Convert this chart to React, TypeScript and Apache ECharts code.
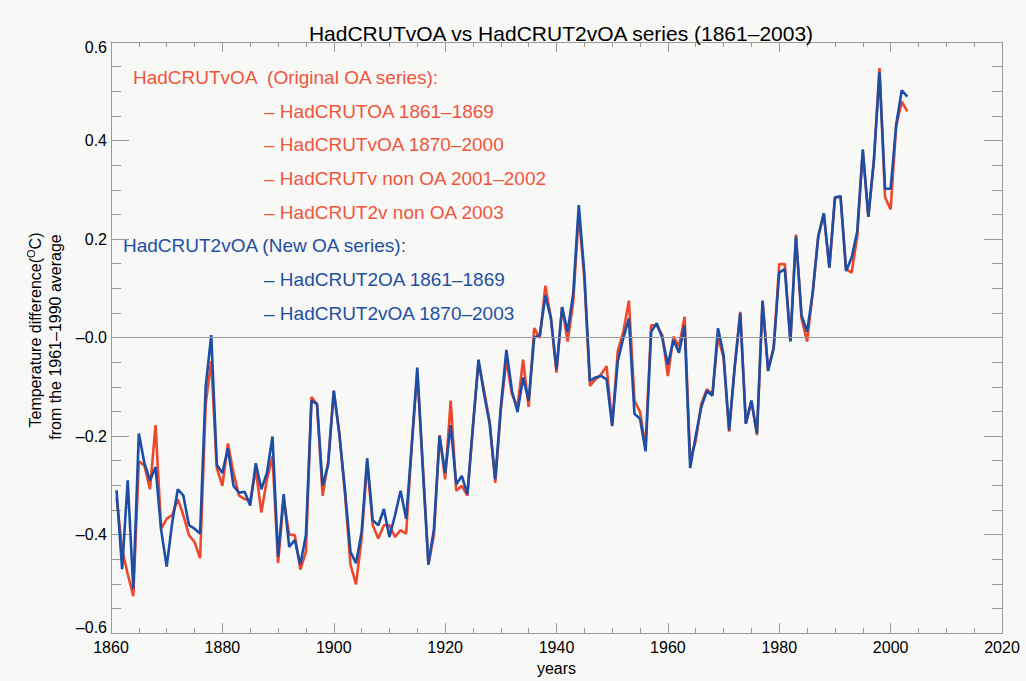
import React, { useEffect, useRef } from "react";
import * as echarts from "echarts";

const FIRST_YEAR = 1861;

// HadCRUTvOA (original OA series), 1861-2003
const hadcrutvOA: number[] = [
  -0.325, -0.43, -0.48, -0.525, -0.251, -0.26, -0.308, -0.178, -0.388,
  -0.368, -0.36, -0.328, -0.361, -0.401, -0.415, -0.448, -0.135, -0.048, -0.265,
  -0.301, -0.215, -0.275, -0.321, -0.328, -0.331, -0.268, -0.355, -0.288, -0.241,
  -0.458, -0.328, -0.4, -0.401, -0.471, -0.435, -0.121, -0.135, -0.321, -0.251,
  -0.108, -0.195, -0.315, -0.461, -0.501, -0.408, -0.255, -0.381, -0.408, -0.381,
  -0.381, -0.405, -0.391, -0.398, -0.22, -0.07, -0.26, -0.461, -0.4, -0.198,
  -0.288, -0.128, -0.311, -0.301, -0.321, -0.18, -0.05, -0.108, -0.171, -0.295,
  -0.148, -0.045, -0.115, -0.141, -0.045, -0.141, 0.019, -0.001, 0.105, 0.039,
  -0.071, 0.062, -0.008, 0.072, 0.252, 0.12, -0.098, -0.085, -0.075, -0.058,
  -0.178, -0.028, 0.012, 0.075, -0.128, -0.151, -0.221, 0.025, 0.025, 0.005,
  -0.078, 0.002, -0.018, 0.042, -0.248, -0.21, -0.135, -0.105, -0.115, 0.002,
  -0.041, -0.191, -0.06, 0.052, -0.175, -0.128, -0.198, 0.072, -0.065, -0.021,
  0.149, 0.149, -0.008, 0.209, 0.039, -0.008, 0.09, 0.205, 0.252, 0.142,
  0.282, 0.287, 0.139, 0.132, 0.205, 0.379, 0.245, 0.36, 0.547, 0.285,
  0.26, 0.429, 0.479, 0.459,
];

// HadCRUT2vOA (new OA series), 1861-2003
const hadcrut2vOA: number[] = [
  -0.31, -0.47, -0.29, -0.51, -0.195, -0.255, -0.29, -0.263, -0.39,
  -0.465, -0.375, -0.308, -0.321, -0.381, -0.388, -0.398, -0.101, 0.005, -0.258,
  -0.275, -0.225, -0.301, -0.315, -0.313, -0.341, -0.255, -0.308, -0.275, -0.201,
  -0.445, -0.318, -0.425, -0.411, -0.461, -0.401, -0.128, -0.135, -0.301, -0.258,
  -0.108, -0.195, -0.308, -0.435, -0.458, -0.395, -0.245, -0.371, -0.381, -0.348,
  -0.405, -0.361, -0.311, -0.368, -0.22, -0.061, -0.268, -0.461, -0.388, -0.2,
  -0.275, -0.178, -0.298, -0.281, -0.318, -0.18, -0.045, -0.115, -0.175, -0.288,
  -0.141, -0.025, -0.108, -0.151, -0.081, -0.128, 0.0, 0.005, 0.085, 0.039,
  -0.065, 0.062, 0.012, 0.089, 0.269, 0.13, -0.088, -0.081, -0.078, -0.085,
  -0.18, -0.048, -0.001, 0.039, -0.155, -0.165, -0.231, 0.012, 0.029, -0.001,
  -0.055, -0.005, -0.031, 0.025, -0.265, -0.2, -0.141, -0.108, -0.118, 0.019,
  -0.035, -0.188, -0.06, 0.049, -0.175, -0.128, -0.195, 0.075, -0.068, -0.021,
  0.132, 0.139, -0.008, 0.205, 0.045, 0.012, 0.09, 0.205, 0.252, 0.142,
  0.285, 0.287, 0.135, 0.162, 0.215, 0.382, 0.245, 0.36, 0.539, 0.302,
  0.302, 0.432, 0.502, 0.489,
];

const RED = "#f0472c";
const BLUE = "#1c4ea6";
const RED_TEXT = "#f2553c";
const BLUE_TEXT = "#234fa3";
const AXIS_GREY = "#9a9a9a";

const redLegend = [
  "HadCRUTvOA  (Original OA series):",
  "\u2013 HadCRUTOA 1861\u20131869",
  "\u2013 HadCRUTvOA 1870\u20132000",
  "\u2013 HadCRUTv non OA 2001\u20132002",
  "\u2013 HadCRUT2v non OA 2003",
];
const blueLegend = [
  "HadCRUT2vOA (New OA series):",
  "\u2013 HadCRUT2OA 1861\u20131869",
  "\u2013 HadCRUT2vOA 1870\u20132003",
];

const FONT = "'Liberation Sans', 'Helvetica', Arial, sans-serif";

function toPairs(vals: number[]): [number, number][] {
  return vals.map((v, i) => [FIRST_YEAR + i, v]);
}

function fmtY(v: number): string {
  if (Math.abs(v) < 1e-9) return "\u20130.0";
  const s = Math.abs(v).toFixed(1);
  const txt = v < 0 ? "\u2013" + s : s;
  if (v <= -0.59) return "{lo|" + txt + "}";
  if (v >= 0.59) return "{hi|" + txt + "}";
  return txt;
}

export default function App() {
  const ref = useRef<HTMLDivElement>(null);

  useEffect(() => {
    if (!ref.current) return;
    const chart = echarts.init(ref.current, undefined, { renderer: "svg" });

    const lineCommon = {
      axisLine: { show: true, onZero: false, lineStyle: { color: AXIS_GREY, width: 1 } },
      splitLine: { show: false },
    };
    const xTicks = {
      axisTick: { show: true, inside: true, length: 10, lineStyle: { color: AXIS_GREY, width: 1 } },
      minorTick: { show: true, splitNumber: 4, length: 5, lineStyle: { color: AXIS_GREY, width: 1 } },
    };
    const yTicks = {
      axisTick: { show: true, inside: true, length: 18, lineStyle: { color: AXIS_GREY, width: 1 } },
      minorTick: { show: true, splitNumber: 4, length: 10, lineStyle: { color: AXIS_GREY, width: 1 } },
    };

    const graphics: any[] = [];
    const legendX = [133, 264, 264, 264, 264];
    const redY = [77, 111, 144, 178, 212];
    redLegend.forEach((t, i) => {
      graphics.push({
        type: "text",
        x: legendX[i],
        y: redY[i],
        style: {
          text: t,
          fill: RED_TEXT,
          font: `19px ${FONT}`,
          textAlign: "left",
          textVerticalAlign: "middle",
        },
      });
    });
    const blueX = [123, 264, 264];
    const blueY = [245, 279, 313];
    blueLegend.forEach((t, i) => {
      graphics.push({
        type: "text",
        x: blueX[i],
        y: blueY[i],
        style: {
          text: t,
          fill: BLUE_TEXT,
          font: `19px ${FONT}`,
          textAlign: "left",
          textVerticalAlign: "middle",
        },
      });
    });
    // y-axis title (two rotated lines)
    graphics.push({
      type: "text",
      x: 35,
      y: 330,
      rotation: Math.PI / 2,
      style: {
        text: "{a|Temperature difference(}{s|O}{a|C)}",
        fill: "#000",
        textAlign: "center",
        textVerticalAlign: "middle",
        rich: {
          a: { fontSize: 16, fontFamily: FONT, fill: "#000" },
          s: { fontSize: 11, fontFamily: FONT, fill: "#000", padding: [0, 0, 9, 0] },
        },
      },
    });
    graphics.push({
      type: "text",
      x: 55,
      y: 337,
      rotation: Math.PI / 2,
      style: {
        text: "from the 1961\u20131990 average",
        fill: "#000",
        font: `16px ${FONT}`,
        textAlign: "center",
        textVerticalAlign: "middle",
      },
    });

    chart.setOption({
      animation: false,
      backgroundColor: "#f8f8f7",
      title: {
        text: "HadCRUTvOA vs HadCRUT2vOA series (1861\u20132003)",
        left: 556,
        top: 18,
        textAlign: "center",
        textStyle: { fontFamily: FONT, fontSize: 21, fontWeight: "normal", color: "#000" },
      },
      grid: { left: 111, right: 24, top: 42, bottom: 44, containLabel: false },
      xAxis: [
        {
          type: "value",
          ...lineCommon,
          ...xTicks,
          position: "bottom",
          min: 1860,
          max: 2020,
          interval: 20,
          axisLabel: {
            show: true,
            color: "#000",
            fontSize: 16,
            fontFamily: FONT,
            margin: 6,
            formatter: (v: number) => String(Math.round(v)),
          },
          name: "years",
          nameLocation: "middle",
          nameGap: 26,
          nameTextStyle: { color: "#000", fontSize: 16, fontFamily: FONT },
        },
        {
          type: "value",
          ...lineCommon,
          ...xTicks,
          position: "top",
          min: 1860,
          max: 2020,
          interval: 20,
          axisLabel: { show: false },
        },
      ],
      yAxis: [
        {
          type: "value",
          ...lineCommon,
          ...yTicks,
          position: "left",
          min: -0.6,
          max: 0.6,
          interval: 0.2,
          axisLabel: {
            show: true,
            color: "#000",
            fontSize: 16,
            fontFamily: FONT,
            margin: 4,
            formatter: (v: number) => fmtY(v),
            rich: {
              lo: { fontSize: 16, fontFamily: FONT, color: "#000", padding: [0, 0, 12, 0] },
              hi: { fontSize: 16, fontFamily: FONT, color: "#000", padding: [10, 0, 0, 0] },
            },
          },
        },
        {
          type: "value",
          ...lineCommon,
          ...yTicks,
          position: "right",
          min: -0.6,
          max: 0.6,
          interval: 0.2,
          axisLabel: { show: false },
        },
      ],
      series: [
        {
          name: "HadCRUTvOA",
          type: "line",
          data: toPairs(hadcrutvOA),
          showSymbol: false,
          symbol: "none",
          lineStyle: { color: RED, width: 2.6 },
          z: 2,
          markLine: {
            silent: true,
            symbol: ["none", "none"],
            label: { show: false },
            lineStyle: { color: AXIS_GREY, width: 1, type: "solid" },
            data: [{ yAxis: 0 }],
          },
        },
        {
          name: "HadCRUT2vOA",
          type: "line",
          data: toPairs(hadcrut2vOA),
          showSymbol: false,
          symbol: "none",
          lineStyle: { color: BLUE, width: 2.6 },
          z: 3,
        },
      ],
      graphic: graphics,
    });

    return () => chart.dispose();
  }, []);

  return (
    <div
      ref={ref}
      style={{ position: "fixed", left: 0, top: 0, width: 1026, height: 681 }}
    />
  );
}
